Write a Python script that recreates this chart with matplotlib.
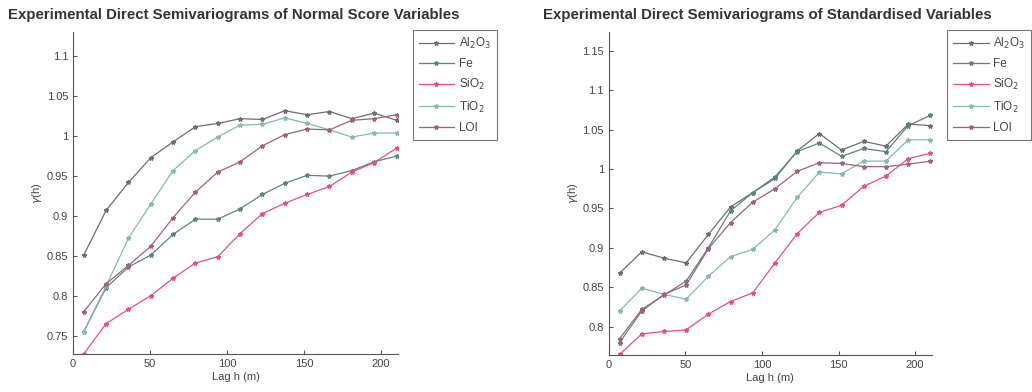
import numpy as np
import matplotlib
matplotlib.use("Agg")
import matplotlib.pyplot as plt

plt.rcParams['font.family'] = ['Liberation Sans', 'DejaVu Sans']

# lag distances (m)
lags = [7, 21.5, 36, 50.5, 65, 79.5, 94, 108.5, 123, 137.5, 152, 166.5, 181, 195.5, 210]

names = ["Al$_2$O$_3$", "Fe", "SiO$_2$", "TiO$_2$", "LOI"]
colors = ["#6e6e6e", "#5c8679", "#e6507a", "#86bba8", "#a2607c"]

# normal score variables
ns_al2o3 = [0.851, 0.907, 0.942, 0.973, 0.993, 1.012, 1.016, 1.022, 1.021, 1.032, 1.027, 1.031, 1.022, 1.029, 1.020]
ns_fe = [0.755, 0.810, 0.836, 0.851, 0.877, 0.896, 0.896, 0.909, 0.927, 0.941, 0.951, 0.950, 0.957, 0.968, 0.975]
ns_sio2 = [0.727, 0.765, 0.783, 0.800, 0.822, 0.841, 0.849, 0.878, 0.903, 0.916, 0.927, 0.937, 0.955, 0.967, 0.985]
ns_tio2 = [0.755, 0.812, 0.872, 0.915, 0.957, 0.982, 0.999, 1.014, 1.015, 1.023, 1.016, 1.008, 0.999, 1.004, 1.004]
ns_loi = [0.780, 0.815, 0.838, 0.862, 0.898, 0.930, 0.955, 0.968, 0.988, 1.002, 1.009, 1.008, 1.020, 1.022, 1.027]

# standardised variables
st_al2o3 = [0.868, 0.895, 0.887, 0.881, 0.917, 0.952, 0.970, 0.988, 1.023, 1.045, 1.024, 1.035, 1.029, 1.057, 1.055]
st_fe = [0.785, 0.822, 0.840, 0.858, 0.900, 0.947, 0.970, 0.990, 1.022, 1.033, 1.016, 1.026, 1.022, 1.055, 1.068]
st_sio2 = [0.765, 0.791, 0.794, 0.796, 0.816, 0.832, 0.843, 0.881, 0.918, 0.945, 0.954, 0.978, 0.991, 1.013, 1.020]
st_tio2 = [0.820, 0.849, 0.841, 0.835, 0.864, 0.889, 0.898, 0.923, 0.964, 0.996, 0.994, 1.010, 1.010, 1.037, 1.037]
st_loi = [0.780, 0.820, 0.841, 0.853, 0.899, 0.932, 0.958, 0.975, 0.997, 1.008, 1.007, 1.003, 1.003, 1.006, 1.010]

txt = "#444444"

fig = plt.figure(figsize=(10.32, 3.92), dpi=100)

def panel(rect, series, ylim, yticks, title, leg_x, title_x):
    ax = fig.add_axes(rect)
    for vals, name, c in zip(series, names, colors):
        ax.plot(lags, vals, color=c, lw=0.9, marker="*", ms=3.2, label=name)
    ax.set_xlim(0, 211)
    ax.set_ylim(*ylim)
    ax.set_xticks([0, 50, 100, 150, 200])
    ax.set_yticks(yticks)
    ax.set_yticklabels([("%g" % v) for v in yticks])
    for s in ["top", "right"]:
        ax.spines[s].set_visible(False)
    for s in ["left", "bottom"]:
        ax.spines[s].set_color("#555555")
        ax.spines[s].set_linewidth(0.8)
    ax.tick_params(direction="in", length=3, labelsize=8, colors="#555555", labelcolor=txt)
    ax.set_xlabel("Lag h (m)", fontsize=8, color=txt, labelpad=2)
    ax.set_ylabel(r"$\gamma$(h)", fontsize=8, color=txt, labelpad=2)
    fig.text(title_x, 0.962, title, fontsize=10.8, fontweight="bold", color="#333333", va="center")
    leg = ax.legend(loc="upper left", bbox_to_anchor=(leg_x, 0.923), bbox_transform=fig.transFigure,
                    fontsize=8.5, frameon=True, fancybox=False, handlelength=3.0,
                    borderpad=0.5, labelspacing=0.6, handletextpad=0.4, borderaxespad=0)
    leg.get_frame().set_edgecolor("#555555")
    leg.get_frame().set_linewidth(0.8)
    for t in leg.get_texts():
        t.set_color(txt)
    return ax

panel([0.0707, 0.097, 0.315, 0.822],
      [ns_al2o3, ns_fe, ns_sio2, ns_tio2, ns_loi],
      (0.727, 1.131), [0.75, 0.8, 0.85, 0.9, 0.95, 1, 1.05, 1.1],
      "Experimental Direct Semivariograms of Normal Score Variables", 0.400, 0.008)

panel([0.590, 0.094, 0.313, 0.825],
      [st_al2o3, st_fe, st_sio2, st_tio2, st_loi],
      (0.764, 1.174), [0.8, 0.85, 0.9, 0.95, 1, 1.05, 1.1, 1.15],
      "Experimental Direct Semivariograms of Standardised Variables", 0.918, 0.526)

fig.savefig("out.png", dpi=100)
